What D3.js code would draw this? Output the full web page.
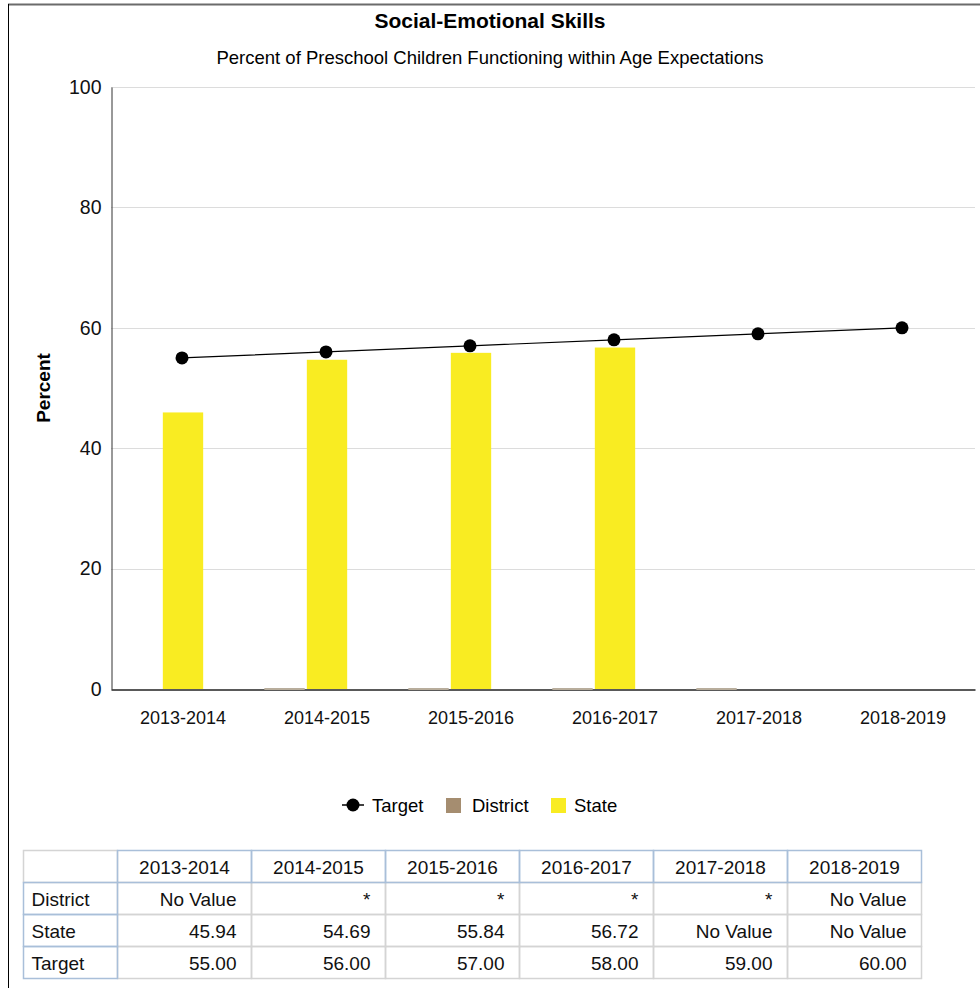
<!DOCTYPE html>
<html>
<head>
<meta charset="utf-8">
<script src="https://cdn.jsdelivr.net/npm/d3@7"></script>
<style>
  body { margin: 0; background: #fff; }
  svg { display: block; font-family: "Liberation Sans", Arial, sans-serif; }
</style>
</head>
<body>
<svg id="chart" width="980" height="988"></svg>
<script>
const categories = ["2013-2014", "2014-2015", "2015-2016", "2016-2017", "2017-2018", "2018-2019"];
const districtValues = [null, 0, 0, 0, 0, null];          // "*" suppressed values drawn at 0
const districtLabels = ["No Value", "*", "*", "*", "*", "No Value"];
const stateValues = [45.94, 54.69, 55.84, 56.72, null, null];
const targetValues = [55, 56, 57, 58, 59, 60];
const yTicks = [0, 20, 40, 60, 80, 100];

const colors = { district: "#a58d70", state: "#f9ec22", target: "#000000" };
const FONT = "Liberation Sans, Arial, sans-serif";

const svg = d3.select("#chart");

// frame
svg.append("line").attr("x1", 8).attr("x2", 980).attr("y1", 4.5).attr("y2", 4.5)
  .attr("stroke", "#6b6b6b").attr("stroke-width", 2);
svg.append("line").attr("x1", 8.5).attr("x2", 8.5).attr("y1", 4).attr("y2", 988)
  .attr("stroke", "#000").attr("stroke-width", 1);

// titles
svg.append("text").attr("x", 490).attr("y", 28).attr("text-anchor", "middle")
  .attr("font-size", 21).attr("font-weight", "bold").text("Social-Emotional Skills");
svg.append("text").attr("x", 490).attr("y", 64).attr("text-anchor", "middle")
  .attr("font-size", 18.5).text("Percent of Preschool Children Functioning within Age Expectations");

const plot = { left: 111, right: 975, top: 87, bottom: 689 };
const x = d3.scaleBand().domain(categories).range([plot.left, plot.right]).paddingInner(0).paddingOuter(0);
const slot = d3.scaleBand().domain(["district", "state", "spare"]).range([0, x.bandwidth()])
  .paddingInner(0.05).paddingOuter(0.22);
const y = d3.scaleLinear().domain([0, 100]).range([plot.bottom, plot.top]);

// grid
svg.append("g").selectAll("line").data(yTicks.filter(d => d > 0)).join("line")
  .attr("x1", plot.left).attr("x2", plot.right)
  .attr("y1", d => Math.round(y(d)) + 0.5).attr("y2", d => Math.round(y(d)) + 0.5)
  .attr("stroke", "#dcdcdc").attr("stroke-width", 1);

// y axis
const yAxis = d3.axisLeft(y).tickValues(yTicks).tickSize(0).tickPadding(10);
const gy = svg.append("g").attr("transform", `translate(${plot.left + 0.5},0)`).call(yAxis);
gy.select(".domain").attr("stroke", "#333");
gy.selectAll("text").attr("font-size", 19.5).attr("fill", "#111").attr("font-family", FONT);

svg.append("text").attr("transform", `translate(50,${(plot.top + plot.bottom) / 2}) rotate(-90)`)
  .attr("text-anchor", "middle").attr("font-size", 19).attr("font-weight", "bold").text("Percent");

// bars: state
svg.append("g").selectAll("rect").data(categories.map((c, i) => ({ c, v: stateValues[i] })).filter(d => d.v != null))
  .join("rect")
  .attr("x", d => x(d.c) + slot("state"))
  .attr("width", slot.bandwidth())
  .attr("y", d => y(d.v))
  .attr("height", d => y(0) - y(d.v))
  .attr("fill", colors.state);

// x axis
const xAxis = d3.axisBottom(x).tickSize(0).tickPadding(22);
const gx = svg.append("g").attr("transform", `translate(0,${plot.bottom + 0.5})`).call(xAxis);
gx.select(".domain").attr("stroke", "#222").attr("stroke-width", 1.5);
gx.selectAll("text").attr("font-size", 18).attr("fill", "#111").attr("font-family", FONT);

// district bars (zero height, drawn as thin line at baseline)
svg.append("g").selectAll("rect").data(categories.map((c, i) => ({ c, v: districtValues[i] })).filter(d => d.v != null))
  .join("rect")
  .attr("x", d => x(d.c) + slot("district"))
  .attr("width", slot.bandwidth())
  .attr("y", d => y(d.v) - 1)
  .attr("height", 2)
  .attr("fill", "#b8ad9c");

// target line
const cx = c => x(c) + x.bandwidth() / 2 - 1;
const line = d3.line().x((d, i) => cx(categories[i])).y(d => y(d));
svg.append("path").datum(targetValues).attr("d", line).attr("fill", "none")
  .attr("stroke", colors.target).attr("stroke-width", 1.2);
svg.append("g").selectAll("circle").data(targetValues).join("circle")
  .attr("cx", (d, i) => cx(categories[i])).attr("cy", d => y(d)).attr("r", 6.5)
  .attr("fill", colors.target);

// legend
const lg = svg.append("g").attr("font-size", 18.5);
lg.append("line").attr("x1", 342).attr("x2", 364).attr("y1", 805).attr("y2", 805).attr("stroke", "#000").attr("stroke-width", 1.5);
lg.append("circle").attr("cx", 353).attr("cy", 805).attr("r", 6.5).attr("fill", "#000");
lg.append("text").attr("x", 372).attr("y", 811.5).text("Target");
lg.append("rect").attr("x", 446).attr("y", 798).attr("width", 15).attr("height", 15).attr("fill", colors.district);
lg.append("text").attr("x", 472).attr("y", 811.5).text("District");
lg.append("rect").attr("x", 551).attr("y", 798).attr("width", 15).attr("height", 15).attr("fill", colors.state);
lg.append("text").attr("x", 574).attr("y", 811.5).text("State");

// table
const rows = [
  { name: "District", vals: districtLabels },
  { name: "State", vals: stateValues.map(v => v == null ? "No Value" : v.toFixed(2)) },
  { name: "Target", vals: targetValues.map(v => v.toFixed(2)) }
];
const tLeft = 23.5, tTop = 850.5, firstW = 94, colW = 134, rowH = 32;
const tcol = d3.scaleBand().domain(categories).range([tLeft + firstW, tLeft + firstW + colW * 6]);
const tg = svg.append("g").attr("font-size", 19).attr("fill", "#111");
const gray = "#d4d4d4", blue = "#a9bfd9";
rows.forEach((r, ri) => {
  categories.forEach((c, ci) => {
    const yy = tTop + rowH * (ri + 1);
    tg.append("rect").attr("x", tcol(c)).attr("y", yy).attr("width", colW).attr("height", rowH)
      .attr("fill", "none").attr("stroke", gray).attr("stroke-width", 1.5);
    tg.append("text").attr("x", tcol(c) + colW - 15).attr("y", yy + 23).attr("text-anchor", "end").text(r.vals[ci]);
  });
});
tg.append("rect").attr("x", tLeft).attr("y", tTop).attr("width", firstW).attr("height", rowH)
  .attr("fill", "none").attr("stroke", gray).attr("stroke-width", 1.5);
categories.forEach(c => {
  tg.append("rect").attr("x", tcol(c)).attr("y", tTop).attr("width", colW).attr("height", rowH)
    .attr("fill", "none").attr("stroke", blue).attr("stroke-width", 1.5);
  tg.append("text").attr("x", tcol(c) + colW / 2).attr("y", tTop + 23).attr("text-anchor", "middle").text(c);
});
rows.forEach((r, ri) => {
  const yy = tTop + rowH * (ri + 1);
  tg.append("rect").attr("x", tLeft).attr("y", yy).attr("width", firstW).attr("height", rowH)
    .attr("fill", "none").attr("stroke", blue).attr("stroke-width", 1.5);
  tg.append("text").attr("x", tLeft + 8).attr("y", yy + 23).text(r.name);
});
</script>
</body>
</html>
